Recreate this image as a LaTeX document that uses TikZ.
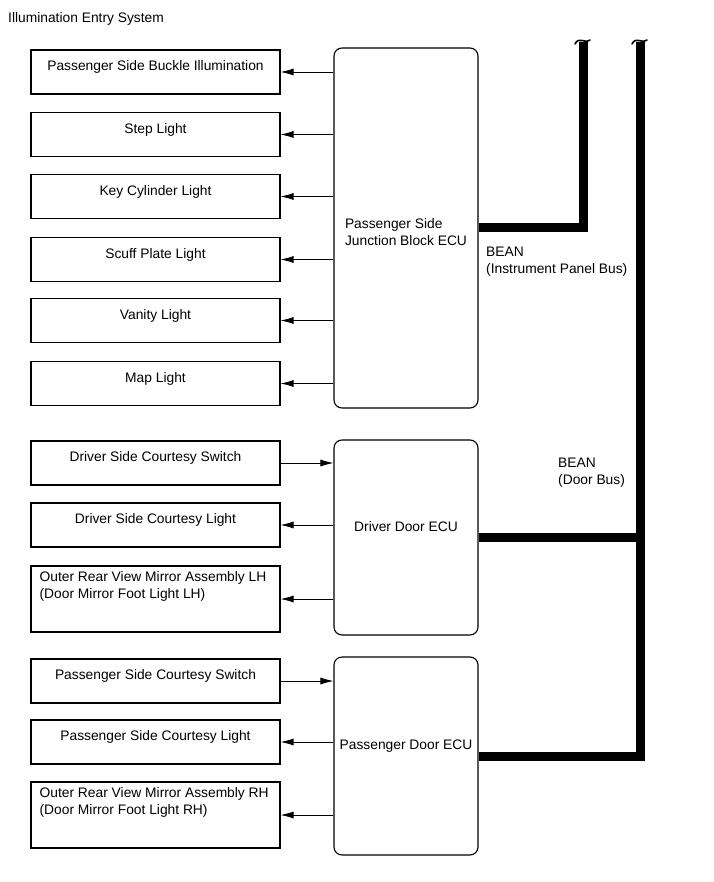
\documentclass[tikz,border=0pt]{standalone}
\usepackage{fontspec}
\setmainfont{Liberation Sans}
\usetikzlibrary{arrows.meta}
\newcommand{\diagfont}{\fontsize{13.8}{17}\selectfont}
\tikzset{
	lamp/.style={draw, line width=1.1pt, minimum width=249pt, minimum height=44pt, inner sep=0pt},
	lamptext/.style={anchor=north, yshift=-11pt, inner sep=0pt, font=\diagfont},
	mirrortext/.style={anchor=north west, xshift=9pt, yshift=-5.5pt, inner sep=0pt, align=left, font=\diagfont},
	ecu/.style={draw, line width=1.1pt, rounded corners=8pt, minimum width=144pt, inner sep=0pt},
	ecutext/.style={inner sep=0pt, align=left, font=\diagfont},
	sig/.style={-{Latex[length=13pt,width=7pt]}, line width=0.8pt},
	bus/.style={line width=9pt},
	tilde/.style={line width=1.6pt, line cap=round}
}
\begin{document}
\begin{tikzpicture}[x=1pt, y=-1pt]
	\useasboundingbox (0,0) rectangle (713,882);
	\node [anchor=base west, inner sep=0pt, font=\diagfont] (title) at (8,23) {Illumination Entry System};
	% ECUs
	\node [ecu, minimum height=360pt, label={[ecutext, yshift=-4.5pt]center:Passenger Side\\Junction Block ECU}] (jb) at (406,228) {};
	\node [ecu, minimum height=195pt, label={[ecutext, yshift=11pt]center:Driver Door ECU}] (dd) at (406,537.5) {};
	\node [ecu, minimum height=198pt, label={[ecutext, yshift=10pt]center:Passenger Door ECU}] (pd) at (406,756) {};
	% lights driven by the junction block
	\foreach \y/\n/\t in {72/buckle/Passenger Side Buckle Illumination, 134.5/step/Step Light, 196.5/key/Key Cylinder Light, 259.5/scuff/Scuff Plate Light, 320.5/vanity/Vanity Light, 383.5/map/Map Light}
	\node [lamp, label={[lamptext]north:\t}] (\n) at (155.5,\y) {};
	\foreach \n in {buckle,step,key,scuff,vanity,map}
	\draw [sig] (jb.west |- \n.east) -- (\n.east);
	% door side
	\node [lamp, label={[lamptext]north:Driver Side Courtesy Switch}] (dsw) at (155.5,463) {};
	\node [lamp, label={[lamptext]north:Driver Side Courtesy Light}] (dlt) at (155.5,525) {};
	\node [lamp, minimum height=66pt, label={[mirrortext]north west:Outer Rear View Mirror Assembly LH\\(Door Mirror Foot Light LH)}] (dmir) at (155.5,599) {};
	\node [lamp, label={[lamptext]north:Passenger Side Courtesy Switch}] (psw) at (155.5,681) {};
	\node [lamp, label={[lamptext]north:Passenger Side Courtesy Light}] (plt) at (155.5,742) {};
	\node [lamp, minimum height=66pt, label={[mirrortext]north west:Outer Rear View Mirror Assembly RH\\(Door Mirror Foot Light RH)}] (pmir) at (155.5,815) {};
	\draw [sig] (dsw.east) -- (dsw.east -| dd.west);
	\draw [sig] (dd.west |- dlt.east) -- (dlt.east);
	\draw [sig] (dd.west |- dmir.east) -- (dmir.east);
	\draw [sig] (psw.east) -- (psw.east -| pd.west);
	\draw [sig] (pd.west |- plt.east) -- (plt.east);
	\draw [sig] (pd.west |- pmir.east) -- (pmir.east);
	% BEAN buses
	\coordinate (iptop) at (583,42);
	\coordinate (doortop) at (640,42);
	\draw [bus] (jb.east) -| (iptop);
	\draw [bus] (doortop) |- (pd.east);
	\draw [bus] (dd.east) -- (dd.east -| doortop);
	\draw [tilde] (575,44) .. controls (579,36) and (584,44) .. (590,40);
	\draw [tilde] (632,44) .. controls (636,36) and (641,44) .. (647,40);
	\node [anchor=north west, inner sep=0pt, align=left, font=\diagfont] (ipbus) at (486,247) {BEAN\\(Instrument Panel Bus)};
	\node [anchor=north west, inner sep=0pt, align=left, font=\diagfont] (doorbus) at (558,458) {BEAN\\(Door Bus)};
\end{tikzpicture}
\end{document}
